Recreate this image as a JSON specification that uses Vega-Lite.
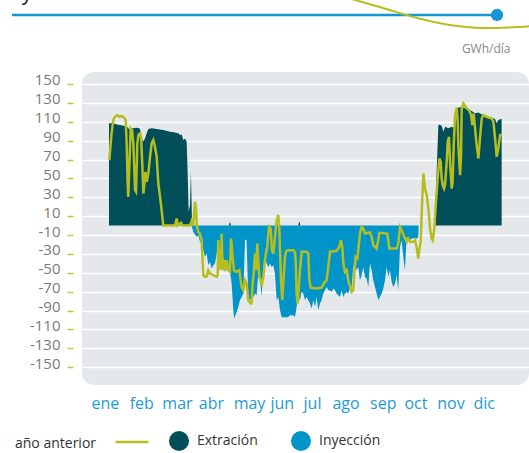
{
"$schema": "https://vega.github.io/schema/vega-lite/v6.json",
"width": 447, "height": 313,
"autosize": {"type": "none"},
"padding": {"left": 82, "top": 72, "right": 0, "bottom": 68},
"background": "white",
"title": {"text": "Inyección/Extracción AASS", "anchor": "start", "font": "Open Sans", "fontSize": 21, "fontWeight": "normal", "color": "#222222", "offset": -11, "dx": -4},
"config": {
  "view": {"fill": "#e5e8eb", "stroke": null, "cornerRadius": 12},
  "font": "Open Sans",
  "legend": {"labelFont": "Open Sans", "labelFontSize": 14, "labelColor": "#333333", "titleFont": "Open Sans", "titleFontSize": 14, "titleFontWeight": "normal", "titleColor": "#333333"}
},
"datasets": {
  "flujo": [
    {"d":0,"v":108.3,"tipo":"Extración"},{"d":4,"v":108.3,"tipo":"Extración"},{"d":7.1,"v":107.2,"tipo":"Extración"},{"d":10.2,"v":106.5,"tipo":"Extración"},{"d":13.3,"v":105.8,"tipo":"Extración"},{"d":16.4,"v":104.7,"tipo":"Extración"},{"d":17.9,"v":103.7,"tipo":"Extración"},{"d":18.9,"v":101.2,"tipo":"Extración"},{"d":20.1,"v":103.7,"tipo":"Extración"},{"d":22.6,"v":103,"tipo":"Extración"},{"d":25.7,"v":103.7,"tipo":"Extración"},{"d":28.2,"v":103,"tipo":"Extración"},{"d":29.4,"v":100.1,"tipo":"Extración"},{"d":30.6,"v":92.4,"tipo":"Extración"},{"d":31.9,"v":89,"tipo":"Extración"},{"d":33.4,"v":92.4,"tipo":"Extración"},{"d":35,"v":97.7,"tipo":"Extración"},{"d":36.5,"v":102.2,"tipo":"Extración"},{"d":39.6,"v":103,"tipo":"Extración"},{"d":44.3,"v":102.2,"tipo":"Extración"},{"d":50.4,"v":101.2,"tipo":"Extración"},{"d":56.6,"v":99.4,"tipo":"Extración"},{"d":61.3,"v":98.7,"tipo":"Extración"},{"d":64.4,"v":97.7,"tipo":"Extración"},{"d":65.9,"v":95.9,"tipo":"Extración"},{"d":67.5,"v":96.6,"tipo":"Extración"},{"d":69,"v":90.6,"tipo":"Extración"},{"d":70.6,"v":92.4,"tipo":"Extración"},{"d":72.1,"v":88.8,"tipo":"Extración"},{"d":73,"v":57,"tipo":"Extración"},{"d":74,"v":14.6,"tipo":"Extración"},{"d":75.2,"v":21.6,"tipo":"Extración"},{"d":76.1,"v":57,"tipo":"Extración"},{"d":77,"v":7.5,"tipo":"Extración"},{"d":78.3,"v":0,"tipo":"Extración"},{"d":111.3,"v":0,"tipo":"Extración"},{"d":112.3,"v":4,"tipo":"Extración"},{"d":113.3,"v":0,"tipo":"Extración"},{"d":175.7,"v":0,"tipo":"Extración"},{"d":176.7,"v":5,"tipo":"Extración"},{"d":177.7,"v":0,"tipo":"Extración"},{"d":302.5,"v":0,"tipo":"Extración"},{"d":305.8,"v":106,"tipo":"Extración"},{"d":306.4,"v":107.2,"tipo":"Extración"},{"d":308.9,"v":105.8,"tipo":"Extración"},{"d":310.5,"v":99.4,"tipo":"Extración"},{"d":312,"v":104.7,"tipo":"Extración"},{"d":315.1,"v":103,"tipo":"Extración"},{"d":318.2,"v":104.7,"tipo":"Extración"},{"d":319.8,"v":103.7,"tipo":"Extración"},{"d":321.3,"v":110,"tipo":"Extración"},{"d":322.5,"v":124.9,"tipo":"Extración"},{"d":324.4,"v":124.9,"tipo":"Extración"},{"d":327.5,"v":125.9,"tipo":"Extración"},{"d":330.6,"v":124.2,"tipo":"Extración"},{"d":333.7,"v":123.5,"tipo":"Extración"},{"d":336.8,"v":121.3,"tipo":"Extración"},{"d":339.9,"v":118.9,"tipo":"Extración"},{"d":343,"v":119.9,"tipo":"Extración"},{"d":346.1,"v":117.8,"tipo":"Extración"},{"d":349.2,"v":116.4,"tipo":"Extración"},{"d":352.3,"v":115.3,"tipo":"Extración"},{"d":355.4,"v":114.3,"tipo":"Extración"},{"d":358.5,"v":112.8,"tipo":"Extración"},{"d":360,"v":108.3,"tipo":"Extración"},{"d":361.5,"v":111.8,"tipo":"Extración"},{"d":363.9,"v":112.8,"tipo":"Extración"},{"d":364.6,"v":112.8,"tipo":"Extración"},
    {"d":76.7,"v":0,"tipo":"Inyección"},{"d":78.2,"v":-6.6,"tipo":"Inyección"},{"d":81.4,"v":-12,"tipo":"Inyección"},{"d":83,"v":-10.3,"tipo":"Inyección"},{"d":84.5,"v":-17,"tipo":"Inyección"},{"d":86,"v":-19,"tipo":"Inyección"},{"d":87.6,"v":-26,"tipo":"Inyección"},{"d":89.1,"v":-33,"tipo":"Inyección"},{"d":90.7,"v":-29.6,"tipo":"Inyección"},{"d":92.2,"v":-42,"tipo":"Inyección"},{"d":93.8,"v":-38.4,"tipo":"Inyección"},{"d":95.3,"v":-45.5,"tipo":"Inyección"},{"d":96.9,"v":-42,"tipo":"Inyección"},{"d":98.4,"v":-40.2,"tipo":"Inyección"},{"d":100,"v":-29.6,"tipo":"Inyección"},{"d":101.5,"v":-17,"tipo":"Inyección"},{"d":103,"v":-43.7,"tipo":"Inyección"},{"d":104.6,"v":-45.5,"tipo":"Inyección"},{"d":106.1,"v":-33,"tipo":"Inyección"},{"d":107.7,"v":-49,"tipo":"Inyección"},{"d":109.2,"v":-45.5,"tipo":"Inyección"},{"d":110.8,"v":-42,"tipo":"Inyección"},{"d":112.3,"v":-49,"tipo":"Inyección"},{"d":113.9,"v":-61,"tipo":"Inyección"},{"d":115.4,"v":-89.7,"tipo":"Inyección"},{"d":116.3,"v":-98.5,"tipo":"Inyección"},{"d":118.5,"v":-91.4,"tipo":"Inyección"},{"d":120.1,"v":-86,"tipo":"Inyección"},{"d":121.6,"v":-79,"tipo":"Inyección"},{"d":123.2,"v":-75.5,"tipo":"Inyección"},{"d":124.7,"v":-72,"tipo":"Inyección"},{"d":126.3,"v":-14.7,"tipo":"Inyección"},{"d":127.8,"v":-15.4,"tipo":"Inyección"},{"d":129.3,"v":-75.5,"tipo":"Inyección"},{"d":130.9,"v":-79,"tipo":"Inyección"},{"d":132.4,"v":-77.3,"tipo":"Inyección"},{"d":134,"v":-75.5,"tipo":"Inyección"},{"d":135.5,"v":-72,"tipo":"Inyección"},{"d":137.1,"v":-73.7,"tipo":"Inyección"},{"d":138.6,"v":-50.8,"tipo":"Inyección"},{"d":140.2,"v":-54.3,"tipo":"Inyección"},{"d":141.7,"v":-75.5,"tipo":"Inyección"},{"d":143.3,"v":-43.7,"tipo":"Inyección"},{"d":144.8,"v":-33,"tipo":"Inyección"},{"d":146.4,"v":-40,"tipo":"Inyección"},{"d":147.9,"v":-43.7,"tipo":"Inyección"},{"d":149.5,"v":-40.2,"tipo":"Inyección"},{"d":151,"v":-43.7,"tipo":"Inyección"},{"d":152.6,"v":-42,"tipo":"Inyección"},{"d":154.1,"v":-50.8,"tipo":"Inyección"},{"d":155.7,"v":-79,"tipo":"Inyección"},{"d":157.2,"v":-75.5,"tipo":"Inyección"},{"d":158.8,"v":-89.7,"tipo":"Inyección"},{"d":160.3,"v":-96.7,"tipo":"Inyección"},{"d":161.8,"v":-97.4,"tipo":"Inyección"},{"d":163.4,"v":-96.7,"tipo":"Inyección"},{"d":165,"v":-97.4,"tipo":"Inyección"},{"d":166.5,"v":-96.7,"tipo":"Inyección"},{"d":168.1,"v":-95,"tipo":"Inyección"},{"d":171.1,"v":-95,"tipo":"Inyección"},{"d":172.7,"v":-96.7,"tipo":"Inyección"},{"d":174.2,"v":-86,"tipo":"Inyección"},{"d":175.8,"v":-75.5,"tipo":"Inyección"},{"d":177.3,"v":-79,"tipo":"Inyección"},{"d":178.9,"v":-70,"tipo":"Inyección"},{"d":180.4,"v":-72,"tipo":"Inyección"},{"d":182,"v":-79,"tipo":"Inyección"},{"d":183.5,"v":-75.5,"tipo":"Inyección"},{"d":185.1,"v":-79,"tipo":"Inyección"},{"d":186.6,"v":-82.6,"tipo":"Inyección"},{"d":188.2,"v":-87.9,"tipo":"Inyección"},{"d":189.7,"v":-79,"tipo":"Inyección"},{"d":191.3,"v":-86,"tipo":"Inyección"},{"d":192.8,"v":-75.5,"tipo":"Inyección"},{"d":194.3,"v":-89.7,"tipo":"Inyección"},{"d":195.9,"v":-82.6,"tipo":"Inyección"},{"d":197.4,"v":-79,"tipo":"Inyección"},{"d":199,"v":-72,"tipo":"Inyección"},{"d":200.5,"v":-68.4,"tipo":"Inyección"},{"d":202.1,"v":-65,"tipo":"Inyección"},{"d":203.6,"v":-68.4,"tipo":"Inyección"},{"d":205.2,"v":-68.4,"tipo":"Inyección"},{"d":206.7,"v":-70.2,"tipo":"Inyección"},{"d":208.3,"v":-66.7,"tipo":"Inyección"},{"d":209.8,"v":-68.4,"tipo":"Inyección"},{"d":211.4,"v":-72,"tipo":"Inyección"},{"d":212.9,"v":-73.7,"tipo":"Inyección"},{"d":214.5,"v":-75.5,"tipo":"Inyección"},{"d":216,"v":-68.4,"tipo":"Inyección"},{"d":217.6,"v":-75.5,"tipo":"Inyección"},{"d":219.1,"v":-72,"tipo":"Inyección"},{"d":220.7,"v":-70.2,"tipo":"Inyección"},{"d":222.2,"v":-72,"tipo":"Inyección"},{"d":223.7,"v":-66.7,"tipo":"Inyección"},{"d":225.3,"v":-65,"tipo":"Inyección"},{"d":226.8,"v":-43.7,"tipo":"Inyección"},{"d":228.4,"v":-36.6,"tipo":"Inyección"},{"d":229.9,"v":-47.2,"tipo":"Inyección"},{"d":231.5,"v":-43.7,"tipo":"Inyección"},{"d":233,"v":-57.8,"tipo":"Inyección"},{"d":234.6,"v":-52.5,"tipo":"Inyección"},{"d":236.1,"v":-43.7,"tipo":"Inyección"},{"d":237.7,"v":-54.3,"tipo":"Inyección"},{"d":239.2,"v":-56,"tipo":"Inyección"},{"d":240.8,"v":-65,"tipo":"Inyección"},{"d":242.3,"v":-40.2,"tipo":"Inyección"},{"d":243.9,"v":-47.2,"tipo":"Inyección"},{"d":245.4,"v":-57.8,"tipo":"Inyección"},{"d":247,"v":-65,"tipo":"Inyección"},{"d":248.5,"v":-72,"tipo":"Inyección"},{"d":250.1,"v":-79,"tipo":"Inyección"},{"d":251.6,"v":-75.5,"tipo":"Inyección"},{"d":253.2,"v":-72,"tipo":"Inyección"},{"d":254.7,"v":-66.7,"tipo":"Inyección"},{"d":256.3,"v":-57.8,"tipo":"Inyección"},{"d":257.8,"v":-43.7,"tipo":"Inyección"},{"d":259.4,"v":-54.3,"tipo":"Inyección"},{"d":260.9,"v":-47.2,"tipo":"Inyección"},{"d":262.5,"v":-59.6,"tipo":"Inyección"},{"d":264,"v":-65,"tipo":"Inyección"},{"d":265.6,"v":-61.4,"tipo":"Inyección"},{"d":267.1,"v":-52.5,"tipo":"Inyección"},{"d":268.6,"v":-68.4,"tipo":"Inyección"},{"d":270.2,"v":-22.5,"tipo":"Inyección"},{"d":271.7,"v":-15.4,"tipo":"Inyección"},{"d":273.3,"v":-33,"tipo":"Inyección"},{"d":274.8,"v":-47.2,"tipo":"Inyección"},{"d":276.4,"v":-12,"tipo":"Inyección"},{"d":279.5,"v":-15,"tipo":"Inyección"},{"d":282.6,"v":-13,"tipo":"Inyección"},{"d":285.6,"v":-14,"tipo":"Inyección"},{"d":287.2,"v":-12,"tipo":"Inyección"},{"d":287.5,"v":0,"tipo":"Inyección"}
  ],
  "anterior": [
    {"d":0.3,"v":69.4},{"d":2.4,"v":97.7},{"d":4,"v":111.8},{"d":5.5,"v":115.3},{"d":7.7,"v":117.1},{"d":9.6,"v":115.3},{"d":11.8,"v":116},{"d":13.9,"v":114.6},{"d":15.5,"v":111.8},{"d":16.4,"v":87},{"d":17.3,"v":44.6},{"d":17.9,"v":30.5},{"d":18.9,"v":62.3},{"d":20.1,"v":103},{"d":21.4,"v":101.2},{"d":22.6,"v":87},{"d":24.2,"v":37.6},{"d":25.1,"v":35.8},{"d":26.3,"v":87},{"d":27.3,"v":95.9},{"d":28.8,"v":97.7},{"d":29.8,"v":94.1},{"d":31,"v":62.3},{"d":31.9,"v":34},{"d":32.8,"v":44.6},{"d":33.8,"v":57},{"d":35,"v":46.4},{"d":36.5,"v":55.2},{"d":38.1,"v":72.9},{"d":39.6,"v":87},{"d":41.2,"v":90.6},{"d":42.7,"v":83.5},{"d":44.3,"v":72.9},{"d":45.8,"v":44.6},{"d":47.4,"v":30.5},{"d":48.9,"v":16.3},{"d":50.4,"v":0},{"d":61.3,"v":0},{"d":62.8,"v":7.5},{"d":63.8,"v":0},{"d":66.8,"v":3},{"d":68.4,"v":0},{"d":75.2,"v":0},{"d":76.7,"v":5},{"d":78.2,"v":0},{"d":79.8,"v":25.2},{"d":80.7,"v":20},{"d":81.6,"v":0},{"d":82.9,"v":-6.6},{"d":84.5,"v":-8.4},{"d":86,"v":-15.4},{"d":87.6,"v":-52.5},{"d":89.1,"v":-54.3},{"d":90.7,"v":-53.6},{"d":92.2,"v":-47.2},{"d":93.8,"v":-50.8},{"d":96.9,"v":-52.5},{"d":100,"v":-54.3},{"d":100.9,"v":-52.5},{"d":101.5,"v":-15.4},{"d":102.4,"v":-47.2},{"d":103,"v":-26},{"d":104,"v":-43.7},{"d":104.6,"v":-8.4},{"d":105.5,"v":-47.2},{"d":106.8,"v":-36.6},{"d":107.7,"v":-47.2},{"d":109.2,"v":-36.6},{"d":110.8,"v":-47.2},{"d":112.3,"v":-49},{"d":113.3,"v":-13.7},{"d":114.5,"v":-29.6},{"d":116,"v":-47.2},{"d":117.9,"v":-49},{"d":121,"v":-47.2},{"d":122.2,"v":-57.8},{"d":123.2,"v":-64.9},{"d":124.7,"v":-68.4},{"d":126.3,"v":-57.8},{"d":127.8,"v":-61.4},{"d":129.3,"v":-79},{"d":131.5,"v":-82.6},{"d":132.4,"v":-82.6},{"d":133.4,"v":-61.4},{"d":134.6,"v":-47.2},{"d":135.5,"v":-29.6},{"d":136.5,"v":-47.2},{"d":137.7,"v":-19},{"d":138.6,"v":-36.6},{"d":139.6,"v":-54.3},{"d":140.8,"v":-57.8},{"d":141.7,"v":-64.9},{"d":143.3,"v":-54.3},{"d":144.8,"v":-36.6},{"d":145.7,"v":-29.6},{"d":147,"v":-22.5},{"d":147.9,"v":-8.4},{"d":148.8,"v":-1.3},{"d":150.1,"v":-3},{"d":151.3,"v":-26},{"d":152.6,"v":-29.6},{"d":154.1,"v":-11.9},{"d":155.7,"v":5.8},{"d":157.2,"v":11.1},{"d":158.1,"v":-1.3},{"d":158.8,"v":-26},{"d":159.7,"v":-57.8},{"d":160.9,"v":-79},{"d":161.8,"v":-61.4},{"d":163.4,"v":-33.1},{"d":164.3,"v":-27.8},{"d":165.6,"v":-26},{"d":171.1,"v":-26},{"d":172.7,"v":-27.8},{"d":173.6,"v":-43.7},{"d":174.2,"v":-72},{"d":175.2,"v":-82.6},{"d":176.1,"v":-68.4},{"d":177.3,"v":-47.2},{"d":178.9,"v":-27.8},{"d":183.5,"v":-27.8},{"d":185.1,"v":-29.6},{"d":186,"v":-57.8},{"d":187.2,"v":-65.6},{"d":192.8,"v":-66.7},{"d":197.4,"v":-65.6},{"d":200.5,"v":-59.6},{"d":202.1,"v":-57.8},{"d":203.6,"v":-43.7},{"d":205.2,"v":-27.8},{"d":211.4,"v":-26.7},{"d":213.8,"v":-22.5},{"d":215.4,"v":-15.4},{"d":216.6,"v":-22.5},{"d":217.6,"v":-40.2},{"d":219.1,"v":-49},{"d":220.7,"v":-47.2},{"d":222.2,"v":-57.8},{"d":223.7,"v":-64.2},{"d":225.3,"v":-70.2},{"d":226.8,"v":-68.4},{"d":227.8,"v":-50.8},{"d":229,"v":-33.1},{"d":230.6,"v":-34.9},{"d":231.8,"v":-22.5},{"d":233,"v":-8.4},{"d":234.6,"v":-1.3},{"d":236.1,"v":-3},{"d":237.7,"v":-8.4},{"d":242.3,"v":-7.3},{"d":243.9,"v":-11.9},{"d":245.4,"v":-20.7},{"d":248.5,"v":-24.3},{"d":250,"v":-15.4},{"d":251,"v":-7.6},{"d":258.4,"v":-8.4},{"d":259.3,"v":-15.4},{"d":260.3,"v":-24.3},{"d":267.1,"v":-24.3},{"d":268.6,"v":-19},{"d":270.2,"v":-1.3},{"d":271.7,"v":-4.8},{"d":274.8,"v":-13.7},{"d":276.4,"v":-17.2},{"d":277.9,"v":-13.7},{"d":279.5,"v":-17.2},{"d":282.6,"v":-17.2},{"d":284.1,"v":-15.4},{"d":285.6,"v":-22.5},{"d":287.2,"v":-34.9},{"d":288.1,"v":-26},{"d":289.4,"v":-17.2},{"d":290.4,"v":14.6},{"d":291.9,"v":55.2},{"d":293.5,"v":39.3},{"d":295,"v":32.3},{"d":296.6,"v":18.1},{"d":298.1,"v":-3.1},{"d":299.6,"v":-13.7},{"d":300.6,"v":-15.5},{"d":302.1,"v":-3.1},{"d":303.4,"v":21.6},{"d":305.2,"v":49.9},{"d":306.8,"v":71.1},{"d":308,"v":67.6},{"d":308.9,"v":49.9},{"d":309.9,"v":42.9},{"d":311.1,"v":39.3},{"d":312,"v":42.9},{"d":313.6,"v":67.6},{"d":314.5,"v":88.8},{"d":315.7,"v":94.1},{"d":316.7,"v":67.6},{"d":318.2,"v":39.3},{"d":319.1,"v":46.4},{"d":320.1,"v":85.3},{"d":321.3,"v":117.1},{"d":322.9,"v":124.9},{"d":323.8,"v":110},{"d":324.4,"v":85.3},{"d":326,"v":53.5},{"d":326.9,"v":74.7},{"d":327.5,"v":124.2},{"d":329.1,"v":129.5},{"d":332.1,"v":124.2},{"d":334.3,"v":122.4},{"d":336.2,"v":117.1},{"d":337.4,"v":106.5},{"d":338.6,"v":118.9},{"d":339.9,"v":103},{"d":341.4,"v":85.3},{"d":343,"v":71.1},{"d":344.5,"v":92.3},{"d":346.1,"v":113.6},{"d":347.6,"v":117.1},{"d":350.7,"v":115.3},{"d":352.9,"v":114.3},{"d":355.4,"v":113.6},{"d":356.9,"v":110},{"d":358.5,"v":92.3},{"d":360,"v":72.9},{"d":361.5,"v":81.7},{"d":363.1,"v":95.9},{"d":364.6,"v":96.6}
  ],
  "linea": [{"d":-90.1,"v":223.1},{"d":360.3,"v":223.1}],
  "punto": [{"d":360.3,"v":223.1}],
  "curva": [{"d":219.1,"v":242.1},{"d":254.4,"v":230.5},{"d":286,"v":219.9},{"d":316.6,"v":212.5},{"d":347.3,"v":209.3},{"d":381.6,"v":210.4},{"d":400.2,"v":212.5}]
},
"encoding": {
  "x": {"field": "d", "type": "quantitative",
    "scale": {"domain": [-25.07, 390], "nice": false, "zero": false},
    "axis": {"values": [-3.9, 30, 63.1, 94.7, 130, 160.4, 188.5, 219.6, 254.2, 284.6, 317.1, 348],
      "labelExpr": "['ene','feb','mar','abr','may','jun','jul','ago','sep','oct','nov','dic'][floor((datum.value+10)/32)]",
      "grid": false, "domain": false, "ticks": false, "labelPadding": 10, "labelFont": "Open Sans", "labelFontSize": 16, "labelColor": "#1e9ad6", "labelOverlap": false, "labelFlush": false, "labelBound": false, "title": null}},
  "y": {"field": "v", "type": "quantitative",
    "scale": {"domain": [-168.8, 162.7], "nice": false, "zero": false},
    "axis": {"values": [-150,-130,-110,-90,-70,-50,-30,-10,10,30,50,70,90,110,130,150],
      "labelExpr": "'' + datum.value",
      "grid": true, "gridColor": "#ffffff", "gridWidth": 1.5, "gridOpacity": 1, "domain": false,
      "ticks": true, "tickColor": "#c3c83a", "tickSize": 6, "tickWidth": 1.5, "offset": 9, "labelPadding": 7,
      "labelFont": "Open Sans", "labelFontSize": 15, "labelColor": "#7a7a7a", "labelOffset": -4, "labelOverlap": false, "labelFlush": false,
      "title": "GWh/día", "titleAngle": 0, "titleX": 437, "titleY": -20, "titleAlign": "right", "titleBaseline": "alphabetic",
      "titleFont": "Open Sans", "titleFontSize": 12, "titleFontWeight": "normal", "titleColor": "#888888"}}
},
"layer": [
  {"data": {"name": "flujo"}, "mark": {"type": "area", "interpolate": "linear"},
   "encoding": {
     "y": {"field": "v", "type": "quantitative", "stack": null,
       "scale": {"domain": [-168.8, 162.7], "nice": false, "zero": false},
       "axis": {"values": [-150,-130,-110,-90,-70,-50,-30,-10,10,30,50,70,90,110,130,150],
         "labelExpr": "'' + datum.value",
         "grid": true, "gridColor": "#ffffff", "gridWidth": 1.5, "gridOpacity": 1, "domain": false,
         "ticks": true, "tickColor": "#c3c83a", "tickSize": 6, "tickWidth": 1.5, "offset": 9, "labelPadding": 7,
         "labelFont": "Open Sans", "labelFontSize": 15, "labelColor": "#7a7a7a", "labelOffset": -4, "labelOverlap": false, "labelFlush": false,
         "title": "GWh/día", "titleAngle": 0, "titleX": 437, "titleY": -20, "titleAlign": "right", "titleBaseline": "alphabetic",
         "titleFont": "Open Sans", "titleFontSize": 12, "titleFontWeight": "normal", "titleColor": "#888888"}},
     "fill": {"field": "tipo", "type": "nominal",
       "scale": {"domain": ["Extración", "Inyección"], "range": ["#004e57", "#0094c8"]},
       "legend": {"title": null, "orient": "none", "legendX": 87, "legendY": 359, "direction": "horizontal",
         "symbolType": "circle", "symbolSize": 400, "symbolStrokeWidth": 0, "symbolOpacity": 1, "labelOffset": 8, "columnPadding": 33}}
   }},
  {"data": {"name": "anterior"}, "mark": {"type": "line", "strokeWidth": 2.5, "interpolate": "linear"},
   "encoding": {
     "stroke": {"datum": "año anterior", "type": "nominal", "scale": {"range": ["#b6be1e"]},
       "legend": {"title": "año anterior", "titleOrient": "left", "orient": "none", "legendX": -67, "legendY": 359,
         "symbolType": "M-1,-0.42H1", "symbolSize": 1089, "symbolStrokeWidth": 2.5, "labelExpr": "''", "titlePadding": 17}}
   }},
  {"data": {"name": "linea"}, "mark": {"type": "line", "color": "#1596d2", "strokeWidth": 2.5}, "encoding": {}},
  {"data": {"name": "curva"}, "mark": {"type": "line", "color": "#b6be1e", "strokeWidth": 2, "interpolate": "monotone"}, "encoding": {}},
  {"data": {"name": "punto"}, "mark": {"type": "point", "filled": true, "opacity": 1, "color": "#1596d2", "size": 150}, "encoding": {}}
]
}
